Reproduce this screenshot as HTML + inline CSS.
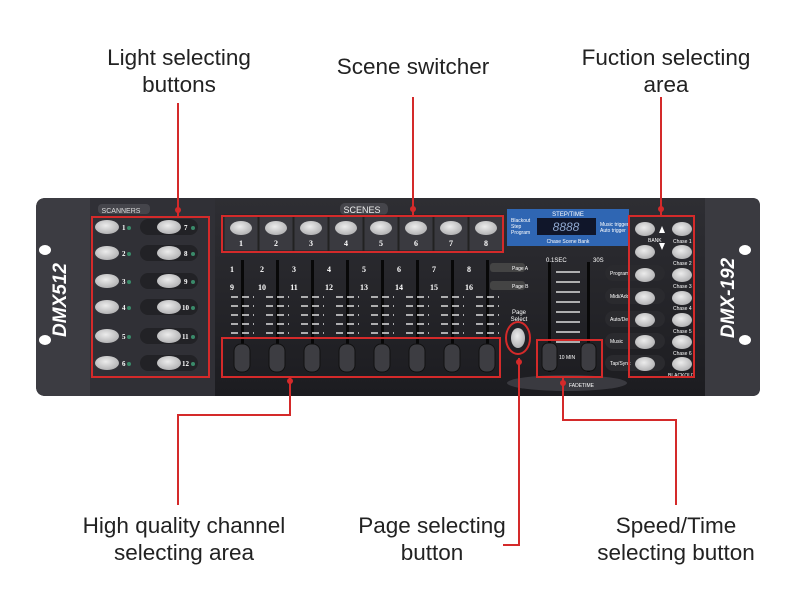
<!DOCTYPE html>
<html><head><meta charset="utf-8"><style>
html,body{margin:0;padding:0;background:#fff;}
svg{display:block;}
</style></head><body>
<svg width="800" height="600" viewBox="0 0 800 600" xmlns="http://www.w3.org/2000/svg" font-family="Liberation Sans, sans-serif">
<defs>
<linearGradient id="bd" x1="0" y1="0" x2="0" y2="1"><stop offset="0" stop-color="#2e2e33"/><stop offset="1" stop-color="#1c1c20"/></linearGradient>
<radialGradient id="bt" cx="0.45" cy="0.4" r="0.7"><stop offset="0" stop-color="#ececec"/><stop offset="1" stop-color="#a9a9ab"/></radialGradient>
</defs>
<g fill="#222" font-size="22.5" text-anchor="middle">
<text x="179" y="65">Light selecting</text><text x="179" y="92">buttons</text>
<text x="413" y="74">Scene switcher</text>
<text x="666" y="65">Fuction selecting</text><text x="666" y="92">area</text>
<text x="184" y="533">High quality channel</text><text x="184" y="560">selecting area</text>
<text x="432" y="533">Page selecting</text><text x="432" y="560">button</text>
<text x="676" y="533">Speed/Time</text><text x="676" y="560">selecting button</text>
</g>
<path d="M46,198 H752 Q760,198 760,206 V388 Q760,396 752,396 H46 Q36,396 36,386 V208 Q36,198 46,198 Z" fill="url(#bd)"/>
<path d="M46,198 H90 V396 H46 Q36,396 36,386 V208 Q36,198 46,198 Z" fill="#3c3c42"/>
<path d="M705,198 H752 Q760,198 760,206 V388 Q760,396 752,396 H705 Z" fill="#3a3a40"/>
<rect x="90" y="198" width="125" height="198" fill="#303036"/>
<ellipse cx="45" cy="250" rx="6" ry="5" fill="#fff"/><ellipse cx="45" cy="340" rx="6" ry="5" fill="#fff"/>
<ellipse cx="745" cy="250" rx="6" ry="5" fill="#fff"/><ellipse cx="745" cy="340" rx="6" ry="5" fill="#fff"/>
<text transform="translate(66,300) rotate(-90)" fill="#fff" font-size="19" font-weight="bold" font-style="italic" text-anchor="middle">DMX512</text>
<text transform="translate(734,298) rotate(-90)" fill="#fff" font-size="19" font-weight="bold" font-style="italic" text-anchor="middle">DMX-192</text>
<rect x="98" y="204" width="52" height="10" rx="4" fill="#45454b"/>
<text x="121" y="213" fill="#ddd" font-size="7" text-anchor="middle">SCANNERS</text>
<rect x="340" y="203" width="48" height="12" rx="5" fill="#45454b"/>
<text x="362" y="213" fill="#eee" font-size="9" text-anchor="middle">SCENES</text>
<g font-size="7" fill="#fff" font-family="Liberation Serif, serif" font-weight="bold">
<rect x="140" y="219" width="58" height="16" rx="8" fill="#222226"/><ellipse cx="107" cy="227" rx="12" ry="7" fill="url(#bt)"/><ellipse cx="169" cy="227" rx="12" ry="7" fill="url(#bt)"/><text x="122" y="230">1</text><text x="184" y="230">7</text>
<rect x="140" y="245" width="58" height="16" rx="8" fill="#222226"/><ellipse cx="107" cy="253" rx="12" ry="7" fill="url(#bt)"/><ellipse cx="169" cy="253" rx="12" ry="7" fill="url(#bt)"/><text x="122" y="256">2</text><text x="184" y="256">8</text>
<rect x="140" y="273" width="58" height="16" rx="8" fill="#222226"/><ellipse cx="107" cy="281" rx="12" ry="7" fill="url(#bt)"/><ellipse cx="169" cy="281" rx="12" ry="7" fill="url(#bt)"/><text x="122" y="284">3</text><text x="184" y="284">9</text>
<rect x="140" y="299" width="58" height="16" rx="8" fill="#222226"/><ellipse cx="107" cy="307" rx="12" ry="7" fill="url(#bt)"/><ellipse cx="169" cy="307" rx="12" ry="7" fill="url(#bt)"/><text x="122" y="310">4</text><text x="182" y="310">10</text>
<rect x="140" y="328" width="58" height="16" rx="8" fill="#222226"/><ellipse cx="107" cy="336" rx="12" ry="7" fill="url(#bt)"/><ellipse cx="169" cy="336" rx="12" ry="7" fill="url(#bt)"/><text x="122" y="339">5</text><text x="182" y="339">11</text>
<rect x="140" y="355" width="58" height="16" rx="8" fill="#222226"/><ellipse cx="107" cy="363" rx="12" ry="7" fill="url(#bt)"/><ellipse cx="169" cy="363" rx="12" ry="7" fill="url(#bt)"/><text x="122" y="366">6</text><text x="182" y="366">12</text>
</g>
<g fill="#3a8a6a"><circle cx="129" cy="228" r="2"/><circle cx="129" cy="254" r="2"/><circle cx="129" cy="282" r="2"/><circle cx="129" cy="308" r="2"/><circle cx="129" cy="337" r="2"/><circle cx="129" cy="364" r="2"/><circle cx="193" cy="228" r="2"/><circle cx="193" cy="254" r="2"/><circle cx="193" cy="282" r="2"/><circle cx="193" cy="308" r="2"/><circle cx="193" cy="337" r="2"/><circle cx="193" cy="364" r="2"/></g>
<g fill="#3a3a40" stroke="#222" stroke-width="1">
<rect x="224" y="215" width="34" height="36"/><rect x="259" y="215" width="34" height="36"/><rect x="294" y="215" width="34" height="36"/><rect x="329" y="215" width="34" height="36"/><rect x="364" y="215" width="34" height="36"/><rect x="399" y="215" width="34" height="36"/><rect x="434" y="215" width="34" height="36"/><rect x="469" y="215" width="34" height="36"/>
</g>
<g fill="url(#bt)"><ellipse cx="241" cy="228" rx="11" ry="7"/><ellipse cx="276" cy="228" rx="11" ry="7"/><ellipse cx="311" cy="228" rx="11" ry="7"/><ellipse cx="346" cy="228" rx="11" ry="7"/><ellipse cx="381" cy="228" rx="11" ry="7"/><ellipse cx="416" cy="228" rx="11" ry="7"/><ellipse cx="451" cy="228" rx="11" ry="7"/><ellipse cx="486" cy="228" rx="11" ry="7"/></g>
<g fill="#fff" font-size="8" font-family="Liberation Serif, serif" font-weight="bold" text-anchor="middle"><text x="241" y="246">1</text><text x="276" y="246">2</text><text x="311" y="246">3</text><text x="346" y="246">4</text><text x="381" y="246">5</text><text x="416" y="246">6</text><text x="451" y="246">7</text><text x="486" y="246">8</text>
<text x="232" y="272">1</text><text x="262" y="272">2</text><text x="294" y="272">3</text><text x="329" y="272">4</text><text x="364" y="272">5</text><text x="399" y="272">6</text><text x="434" y="272">7</text><text x="469" y="272">8</text>
<text x="232" y="290">9</text><text x="262" y="290">10</text><text x="294" y="290">11</text><text x="329" y="290">12</text><text x="364" y="290">13</text><text x="399" y="290">14</text><text x="434" y="290">15</text><text x="469" y="290">16</text></g>
<g fill="#080808"><rect x="241" y="260" width="3" height="100"/><rect x="276" y="260" width="3" height="100"/><rect x="311" y="260" width="3" height="100"/><rect x="346" y="260" width="3" height="100"/><rect x="381" y="260" width="3" height="100"/><rect x="416" y="260" width="3" height="100"/><rect x="451" y="260" width="3" height="100"/><rect x="486" y="260" width="3" height="100"/></g>
<g stroke="#ddd" stroke-width="1.5" stroke-dasharray="7 4">
<line x1="231" y1="297" x2="254" y2="297"/><line x1="231" y1="306" x2="254" y2="306"/><line x1="231" y1="315" x2="254" y2="315"/><line x1="231" y1="324" x2="254" y2="324"/><line x1="231" y1="333" x2="254" y2="333"/>
<line x1="266" y1="297" x2="289" y2="297"/><line x1="266" y1="306" x2="289" y2="306"/><line x1="266" y1="315" x2="289" y2="315"/><line x1="266" y1="324" x2="289" y2="324"/><line x1="266" y1="333" x2="289" y2="333"/>
<line x1="301" y1="297" x2="324" y2="297"/><line x1="301" y1="306" x2="324" y2="306"/><line x1="301" y1="315" x2="324" y2="315"/><line x1="301" y1="324" x2="324" y2="324"/><line x1="301" y1="333" x2="324" y2="333"/>
<line x1="336" y1="297" x2="359" y2="297"/><line x1="336" y1="306" x2="359" y2="306"/><line x1="336" y1="315" x2="359" y2="315"/><line x1="336" y1="324" x2="359" y2="324"/><line x1="336" y1="333" x2="359" y2="333"/>
<line x1="371" y1="297" x2="394" y2="297"/><line x1="371" y1="306" x2="394" y2="306"/><line x1="371" y1="315" x2="394" y2="315"/><line x1="371" y1="324" x2="394" y2="324"/><line x1="371" y1="333" x2="394" y2="333"/>
<line x1="406" y1="297" x2="429" y2="297"/><line x1="406" y1="306" x2="429" y2="306"/><line x1="406" y1="315" x2="429" y2="315"/><line x1="406" y1="324" x2="429" y2="324"/><line x1="406" y1="333" x2="429" y2="333"/>
<line x1="441" y1="297" x2="464" y2="297"/><line x1="441" y1="306" x2="464" y2="306"/><line x1="441" y1="315" x2="464" y2="315"/><line x1="441" y1="324" x2="464" y2="324"/><line x1="441" y1="333" x2="464" y2="333"/>
<line x1="476" y1="297" x2="499" y2="297"/><line x1="476" y1="306" x2="499" y2="306"/><line x1="476" y1="315" x2="499" y2="315"/><line x1="476" y1="324" x2="499" y2="324"/><line x1="476" y1="333" x2="499" y2="333"/>
</g>
<g fill="#3d3d42" stroke="#111"><rect x="234" y="344" width="16" height="28" rx="7"/><rect x="269" y="344" width="16" height="28" rx="7"/><rect x="304" y="344" width="16" height="28" rx="7"/><rect x="339" y="344" width="16" height="28" rx="7"/><rect x="374" y="344" width="16" height="28" rx="7"/><rect x="409" y="344" width="16" height="28" rx="7"/><rect x="444" y="344" width="16" height="28" rx="7"/><rect x="479" y="344" width="16" height="28" rx="7"/></g>
<rect x="490" y="263" width="35" height="9" rx="3" fill="#444"/><rect x="490" y="281" width="35" height="9" rx="3" fill="#444"/>
<text x="512" y="270" fill="#fff" font-size="5">Page A</text><text x="512" y="288" fill="#fff" font-size="5">Page B</text>
<text x="519" y="314" fill="#fff" font-size="6" text-anchor="middle">Page</text><text x="519" y="321" fill="#fff" font-size="6" text-anchor="middle">Select</text>
<ellipse cx="518" cy="338" rx="7" ry="10" fill="url(#bt)"/>
<rect x="507" y="209" width="122" height="37" fill="#2f66b3"/>
<text x="568" y="216" fill="#fff" font-size="6" text-anchor="middle">STEP/TIME</text>
<rect x="537" y="218" width="59" height="17" fill="#10162a"/>
<text x="566" y="231" fill="#8fa8d0" font-size="12" font-style="italic" text-anchor="middle">8888</text>
<text x="511" y="222" fill="#fff" font-size="5">Blackout</text><text x="511" y="228" fill="#fff" font-size="5">Step</text><text x="511" y="234" fill="#fff" font-size="5">Program</text>
<text x="600" y="226" fill="#fff" font-size="5">Music trigger</text><text x="600" y="232" fill="#fff" font-size="5">Auto trigger</text>
<text x="568" y="243" fill="#fff" font-size="5" text-anchor="middle">Chase Scene Bank</text>
<text x="546" y="262" fill="#fff" font-size="6">0.1SEC</text><text x="593" y="262" fill="#fff" font-size="6">30S</text>
<rect x="548" y="262" width="3" height="110" fill="#080808"/><rect x="587" y="262" width="3" height="110" fill="#080808"/>
<g stroke="#ddd" stroke-width="1.5"><line x1="556" y1="272" x2="580" y2="272"/><line x1="556" y1="282" x2="580" y2="282"/><line x1="556" y1="292" x2="580" y2="292"/><line x1="556" y1="302" x2="580" y2="302"/><line x1="556" y1="312" x2="580" y2="312"/><line x1="556" y1="322" x2="580" y2="322"/><line x1="556" y1="332" x2="580" y2="332"/><line x1="556" y1="342" x2="580" y2="342"/></g>
<rect x="542" y="343" width="15" height="28" rx="6" fill="#3d3d42" stroke="#111"/><rect x="581" y="343" width="15" height="28" rx="6" fill="#3d3d42" stroke="#111"/>
<text x="559" y="359" fill="#fff" font-size="5">10 MIN</text>
<ellipse cx="567" cy="383" rx="60" ry="8" fill="#3a3a40"/>
<text x="569" y="387" fill="#fff" font-size="5">FADETIME</text>
<g fill="#2a2a2e"><rect x="605" y="265" width="60" height="16" rx="8"/><rect x="605" y="288" width="60" height="16" rx="8"/><rect x="605" y="311" width="60" height="16" rx="8"/><rect x="605" y="333" width="60" height="16" rx="8"/><rect x="605" y="355" width="60" height="16" rx="8"/></g>
<g fill="#fff" font-size="5"><text x="610" y="275">Program</text><text x="610" y="298">Midi/Add</text><text x="610" y="321">Auto/Del</text><text x="610" y="343">Music</text><text x="610" y="365">Tap/Sync</text>
<text x="673" y="243">Chase 1</text><text x="673" y="265">Chase 2</text><text x="673" y="288">Chase 3</text><text x="673" y="310">Chase 4</text><text x="673" y="333">Chase 5</text><text x="673" y="355">Chase 6</text><text x="668" y="377">BLACKOUT</text><text x="648" y="242">BANK</text></g>
<g fill="url(#bt)">
<ellipse cx="645" cy="229" rx="10" ry="7"/><ellipse cx="645" cy="252" rx="10" ry="7"/><ellipse cx="645" cy="275" rx="10" ry="7"/><ellipse cx="645" cy="298" rx="10" ry="7"/><ellipse cx="645" cy="320" rx="10" ry="7"/><ellipse cx="645" cy="342" rx="10" ry="7"/><ellipse cx="645" cy="364" rx="10" ry="7"/>
<ellipse cx="682" cy="229" rx="10" ry="7"/><ellipse cx="682" cy="252" rx="10" ry="7"/><ellipse cx="682" cy="275" rx="10" ry="7"/><ellipse cx="682" cy="298" rx="10" ry="7"/><ellipse cx="682" cy="320" rx="10" ry="7"/><ellipse cx="682" cy="342" rx="10" ry="7"/><ellipse cx="682" cy="364" rx="10" ry="7"/>
</g>
<polygon points="659,233 662,226 665,233" fill="#fff"/><polygon points="659,243 665,243 662,250" fill="#fff"/>
<g stroke="#d42a2a" stroke-width="2" fill="none">
<rect x="92" y="217" width="117" height="160"/>
<rect x="222" y="216" width="281" height="36"/>
<rect x="629" y="216" width="65" height="161"/>
<rect x="222" y="338" width="278" height="39"/>
<rect x="537" y="340" width="65" height="37"/>
<ellipse cx="518" cy="338" rx="12" ry="16"/>
<polyline points="178,103 178,217"/>
<polyline points="413,97 413,216"/>
<polyline points="661,97 661,216"/>
<polyline points="290,377 290,415 178,415 178,505"/>
<polyline points="519,358 519,545 503,545"/>
<polyline points="563,377 563,420 676,420 676,505"/>
</g>
<g fill="#d42a2a"><circle cx="178" cy="210" r="3"/><circle cx="413" cy="209" r="3"/><circle cx="661" cy="209" r="3"/><circle cx="290" cy="381" r="3"/><circle cx="519" cy="362" r="3"/><circle cx="563" cy="383" r="3"/></g>
</svg>
</body></html>
